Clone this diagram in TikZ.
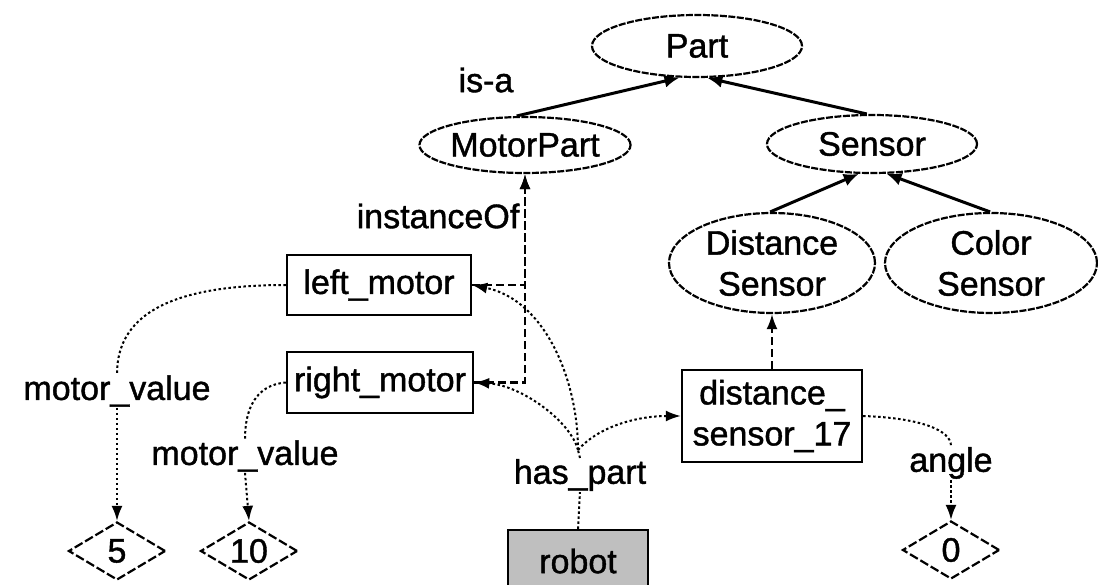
\documentclass[tikz,border=0pt]{standalone}
\usepackage{fontspec}
\setmainfont{Liberation Sans}
\newfontfamily\heavysans[FakeBold=1.2]{Liberation Sans}
\usetikzlibrary{shapes.geometric,arrows.meta}
\begin{document}
\begin{tikzpicture}[x=1pt,y=-1pt,
  every node/.style={font=\fontsize{34}{41}\heavysans},
  cls/.style={ellipse,draw,line width=2.2pt,dash pattern=on 7pt off 1.5pt,inner sep=0pt,align=center},
  inst/.style={rectangle,draw,line width=2.4pt,inner sep=0pt,align=center},
  val/.style={diamond,draw,line width=2.2pt,dash pattern=on 9pt off 3pt,inner sep=0pt,aspect=1.7,
              minimum width=97pt,minimum height=58pt},
  lbl/.style={inner sep=1pt},
  isa/.style={line width=3pt,-{Latex[length=15pt,width=13pt]}},
  instof/.style={line width=2.2pt,dash pattern=on 8pt off 4pt,-{Latex[length=15pt,width=11pt]}},
  rel/.style={line width=2pt,dash pattern=on 2.5pt off 2.5pt},
  relarrow/.style={rel,-{Latex[length=15pt,width=11pt]}}
]
\useasboundingbox (0,0) rectangle (1098,585);
\clip (0,0) rectangle (1098,585);

% class hierarchy
\node[cls,minimum width=210pt,minimum height=62pt] (part) at (697,46) {Part};
\node[cls,minimum width=210pt,minimum height=56pt] (motorpart) at (525,145) {MotorPart};
\node[cls,minimum width=210pt,minimum height=58pt] (sensor) at (872,144) {Sensor};
\node[cls,minimum width=206pt,minimum height=100pt] (distsensor) at (772,263) {Distance\\Sensor};
\node[cls,minimum width=212pt,minimum height=100pt] (colorsensor) at (991,263) {Color\\Sensor};

% instances
\node[inst,minimum width=184pt,minimum height=60pt] (leftmotor) at (379,285) {left\_motor};
\node[inst,minimum width=186pt,minimum height=61pt] (rightmotor) at (380,382.5) {right\_motor};
\node[inst,minimum width=180pt,minimum height=92pt] (ds17) at (772,416) {distance\_\\sensor\_17};
\node[inst,minimum width=140pt,minimum height=62pt,fill=black!25] (robot) at (578,561) {robot};

% values
\node[val] (d5) at (117,551) {5};
\node[val] (d10) at (249,551) {10};
\node[val] (d0) at (951,550) {0};

% relation labels
\node[lbl] (isalbl) at (486,80) {is-a};
\node[lbl] (instlbl) at (438,216) {instanceOf};
\node[lbl] (mv1) at (117,391) {motor\_value};
\node[lbl] (mv2) at (245,456) {motor\_value};
\node[lbl] (haspart) at (580,475) {has\_part};
\node[lbl] (angle) at (951,463) {angle};
\coordinate (hp) at (578,450);

% is-a edges
\draw[isa] (motorpart.106) -- (part.241);
\draw[isa] (sensor.100) -- (part.288);
\draw[isa] (distsensor.92) -- (sensor.246);
\draw[isa] (colorsensor.91) -- (sensor.296);

% instanceOf edges
\draw[instof] (leftmotor.east) -| (motorpart.south);
\draw[instof] (rightmotor.east) -| (motorpart.south);
\draw[instof] (ds17.north) -- (distsensor.south);

% has_part edges
\draw[rel] (robot.north) -- (haspart.south);
\draw[rel] (haspart.north) -- (hp);
\draw[relarrow] (hp) .. controls (578,380) and (545,300) .. (leftmotor.east);
\draw[relarrow] (hp) .. controls (570,420) and (520,385) .. (rightmotor.east);
\draw[relarrow] (hp) .. controls (600,425) and (640,416) .. (ds17.west);

% attribute edges
\draw[rel] (leftmotor.west) .. controls (170,285) and (117,315) .. (mv1.north);
\draw[relarrow] (mv1.south) -- (d5.north);
\draw[rel] (rightmotor.west) .. controls (255,385) and (245,410) .. (mv2.north);
\draw[relarrow] (mv2.south) -- (d10.north);
\draw[rel] (ds17.east) .. controls (920,418) and (951,430) .. (angle.north);
\draw[relarrow] (angle.south) -- (d0.north);
\end{tikzpicture}
\end{document}
